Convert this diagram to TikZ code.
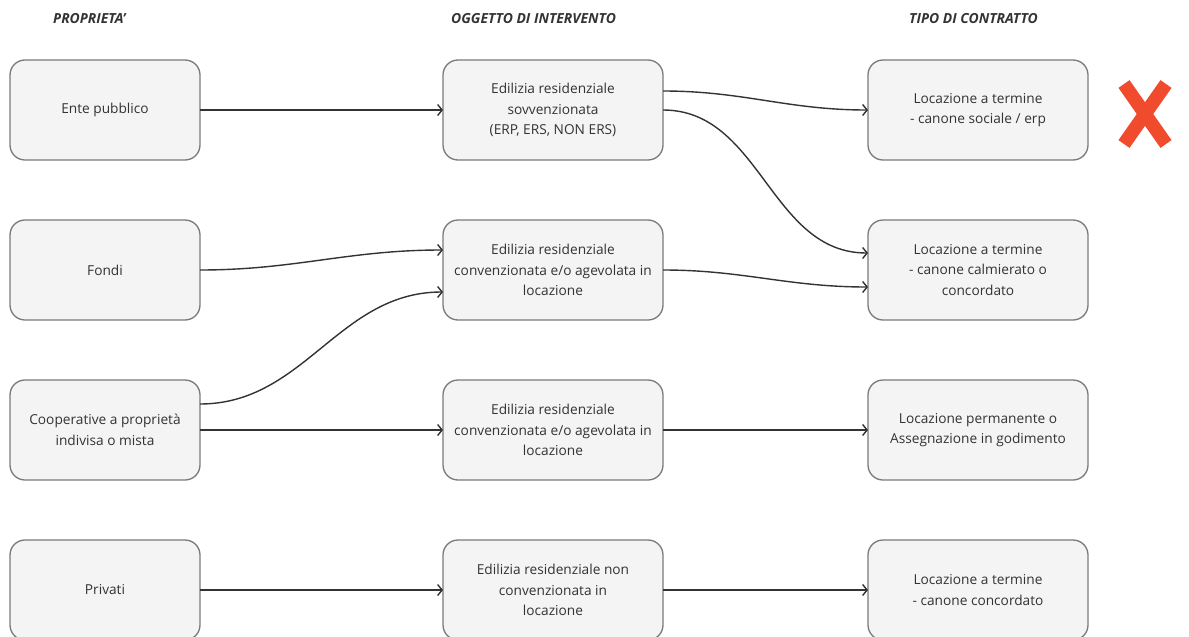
\documentclass[tikz,border=0pt]{standalone}
\usepackage{fontspec}
\setmainfont{Open Sans}
\definecolor{boxfill}{HTML}{F4F4F5}
\definecolor{boxline}{HTML}{7A7A7A}
\definecolor{ink}{HTML}{333333}
\definecolor{cross}{HTML}{F04B2C}
\usetikzlibrary{arrows.meta}
\usetikzlibrary{positioning}

\tikzset{
  item/.style={draw=boxline, fill=boxfill, rounded corners=15pt,
    line width=1.3pt, minimum height=100pt, inner sep=0pt, outer sep=0pt,
    align=center, text=ink, font=\fontsize{13.7}{20.5}\selectfont},
  owner/.style={item, minimum width=190pt},
  wide/.style={item, minimum width=220pt},
  heading/.style={anchor=west, text=ink, inner sep=0pt,
    font=\fontsize{13.9}{16}\selectfont\bfseries\itshape},
  flow/.style={-{Straight Barb[length=4.5pt,width=11pt]}, ink, line width=1.4pt},
}

\begin{document}
\begin{tikzpicture}[x=1pt, y=-1pt]
        \useasboundingbox (0,0) rectangle (1189,637);

        % column headings
        \node [heading] (h1) at (53,19) {PROPRIETA'};
        \node [heading] (h2) at (451,19) {OGGETTO DI INTERVENTO};
        \node [heading] (h3) at (909,19) {TIPO DI CONTRATTO};

        % owners
        \node [owner] (e1) at (105,110) {Ente pubblico};
        \node [owner, below=60pt of e1] (f1) {Fondi};
        \node [owner, below=60pt of f1] (c1) {Cooperative a proprietà\\indivisa o mista};
        \node [owner, below=60pt of c1] (p1) {Privati};

        % subject of the intervention
        \node [wide, right=243pt of e1] (s1)
            {Edilizia residenziale\\sovvenzionata\\(ERP, ERS, NON ERS)};
        \node [wide, right=243pt of f1] (s2)
            {Edilizia residenziale\\convenzionata e/o agevolata in\\locazione};
        \node [wide, right=243pt of c1] (s3)
            {Edilizia residenziale\\convenzionata e/o agevolata in\\locazione};
        \node [wide, right=243pt of p1] (s4)
            {Edilizia residenziale non\\convenzionata in\\locazione};

        % contract type
        \node [wide, right=205pt of s1] (t1)
            {Locazione a termine\\- canone sociale / erp};
        \node [wide, right=205pt of s2] (t2)
            {Locazione a termine\\- canone calmierato o\\concordato};
        \node [wide, right=205pt of s3] (t3)
            {Locazione permanente o\\Assegnazione in godimento};
        \node [wide, right=205pt of s4] (t4)
            {Locazione a termine\\- canone concordato};

        % red cross
        \draw [cross, line width=13.5pt] (1124,84) -- (1166,144);
        \draw [cross, line width=13.5pt] (1166,84) -- (1124,144);

        \draw [flow] (e1.east) -- (s1.west);
        \draw [flow] (f1.east) to[out=0, in=180] ([yshift=20pt]s2.west);
        \draw [flow] ([yshift=26pt]c1.east) to[out=0, in=180] ([yshift=-22pt]s2.west);
        \draw [flow] (c1.east) -- (s3.west);
        \draw [flow] (p1.east) -- (s4.west);

        \draw [flow] ([yshift=19pt]s1.east) to[out=0, in=180] (t1.west);
        \draw [flow] (s1.east) to[out=0, in=180] ([yshift=17pt]t2.west);
        \draw [flow] (s2.east) to[out=0, in=180] ([yshift=-17pt]t2.west);
        \draw [flow] (s3.east) -- (t3.west);
        \draw [flow] (s4.east) -- (t4.west);
    \end{tikzpicture}
\end{document}
